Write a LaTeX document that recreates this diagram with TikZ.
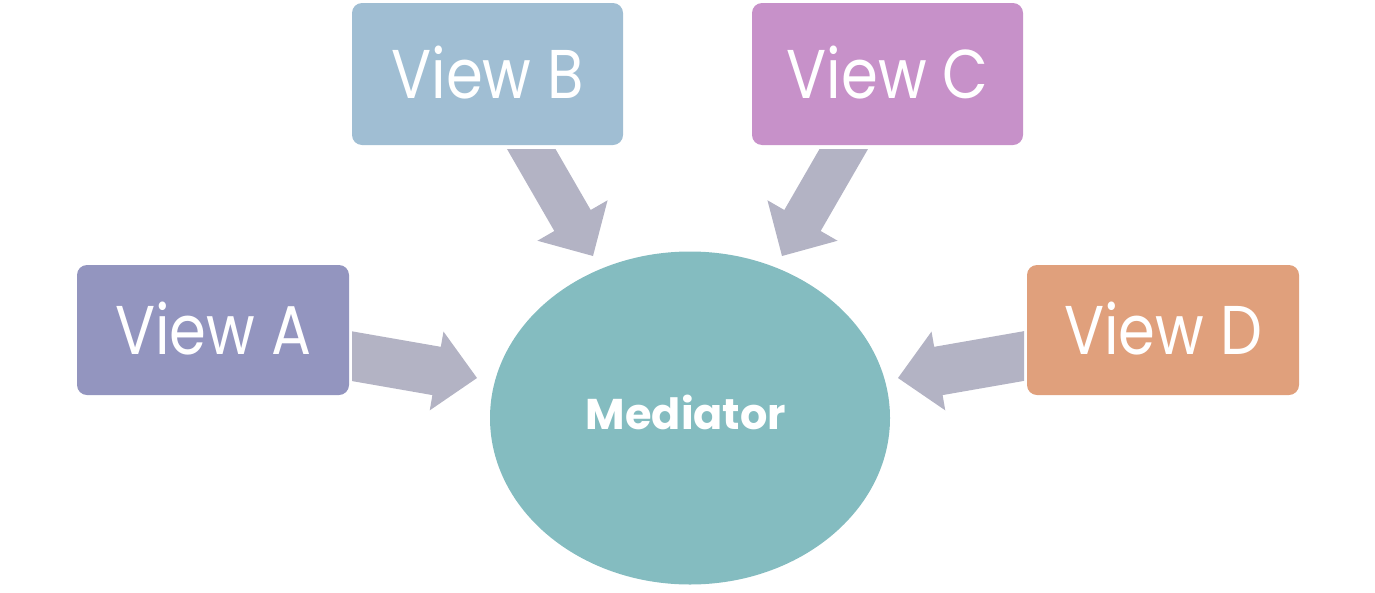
\documentclass[tikz,border=0pt]{standalone}
\usepackage{fontspec}
\setmainfont{Poppins}
\usetikzlibrary{calc,shapes.geometric}
\definecolor{colA}{HTML}{9395BF}
\definecolor{colB}{HTML}{A0BED3}
\definecolor{colC}{HTML}{C791C9}
\definecolor{colD}{HTML}{E0A07C}
\definecolor{colM}{HTML}{84BCC0}
\definecolor{colArr}{HTML}{B3B3C4}
\newcommand\blockarrow[5]{%
  \coordinate (hb) at ($(#2)!#5!(#1)$);
  \fill[arrowfill] ($(#1)!#3!90:(#2)$) -- ($(hb)!#3!90:(#2)$) -- ($(hb)!#4!90:(#2)$)
    -- (#2) -- ($(hb)!#4!-90:(#2)$) -- ($(hb)!#3!-90:(#2)$) -- ($(#1)!#3!-90:(#2)$) -- cycle;
}
\tikzset{
  viewbox/.style={rectangle, rounded corners=10pt, inner sep=0pt, text=white,
    font=\fontsize{69}{80}\selectfont},
  arrowfill/.style={fill=colArr},
}
\newcommand\vtext[1]{\raisebox{4pt}{\scalebox{0.86}[1]{#1}}}
\begin{document}
\begin{tikzpicture}[x=1pt,y=-1pt]
\useasboundingbox (0,0) rectangle (1375,592);
% nodes
\node[viewbox, fill=colA, minimum width=272pt, minimum height=130pt] (A) at (213,330) {\vtext{View A}};
\node[viewbox, fill=colB, minimum width=271pt, minimum height=142pt] (B) at (487.5,74) {\vtext{View B}};
\node[viewbox, fill=colC, minimum width=271pt, minimum height=142pt] (C) at (887.5,74) {\vtext{View C}};
\node[viewbox, fill=colD, minimum width=272pt, minimum height=130pt] (D) at (1163,330) {\vtext{View D}};
\node[ellipse, fill=colM, inner sep=0pt, minimum width=400pt, minimum height=333pt] (M) at (690,418) {};
\node[text=white, font=\fontsize{43}{50}\selectfont\bfseries, inner sep=0pt] (Mt) at (686,412) {Mediator};
% arrow anchor points
\coordinate (sA) at (319.4,350.5); \coordinate (tA) at (477,378);
\coordinate (sD) at (1055.6,350.5); \coordinate (tD) at (898,378);
\coordinate (sB) at (513,117.4); \coordinate (tB) at (593,256);
\coordinate (sC) at (862,117.4); \coordinate (tC) at (782,256);
\begin{scope}
  \clip (352,0) rectangle (700,592);
  \blockarrow{sA}{tA}{24.5pt}{40pt}{41pt}
\end{scope}
\begin{scope}
  \clip (690,0) rectangle (1024,592);
  \blockarrow{sD}{tD}{24.5pt}{40pt}{41pt}
\end{scope}
\begin{scope}
  \clip (0,149) rectangle (1375,592);
  \blockarrow{sB}{tB}{21pt}{40.5pt}{41pt}
  \blockarrow{sC}{tC}{21pt}{40.5pt}{41pt}
\end{scope}
\end{tikzpicture}
\end{document}
